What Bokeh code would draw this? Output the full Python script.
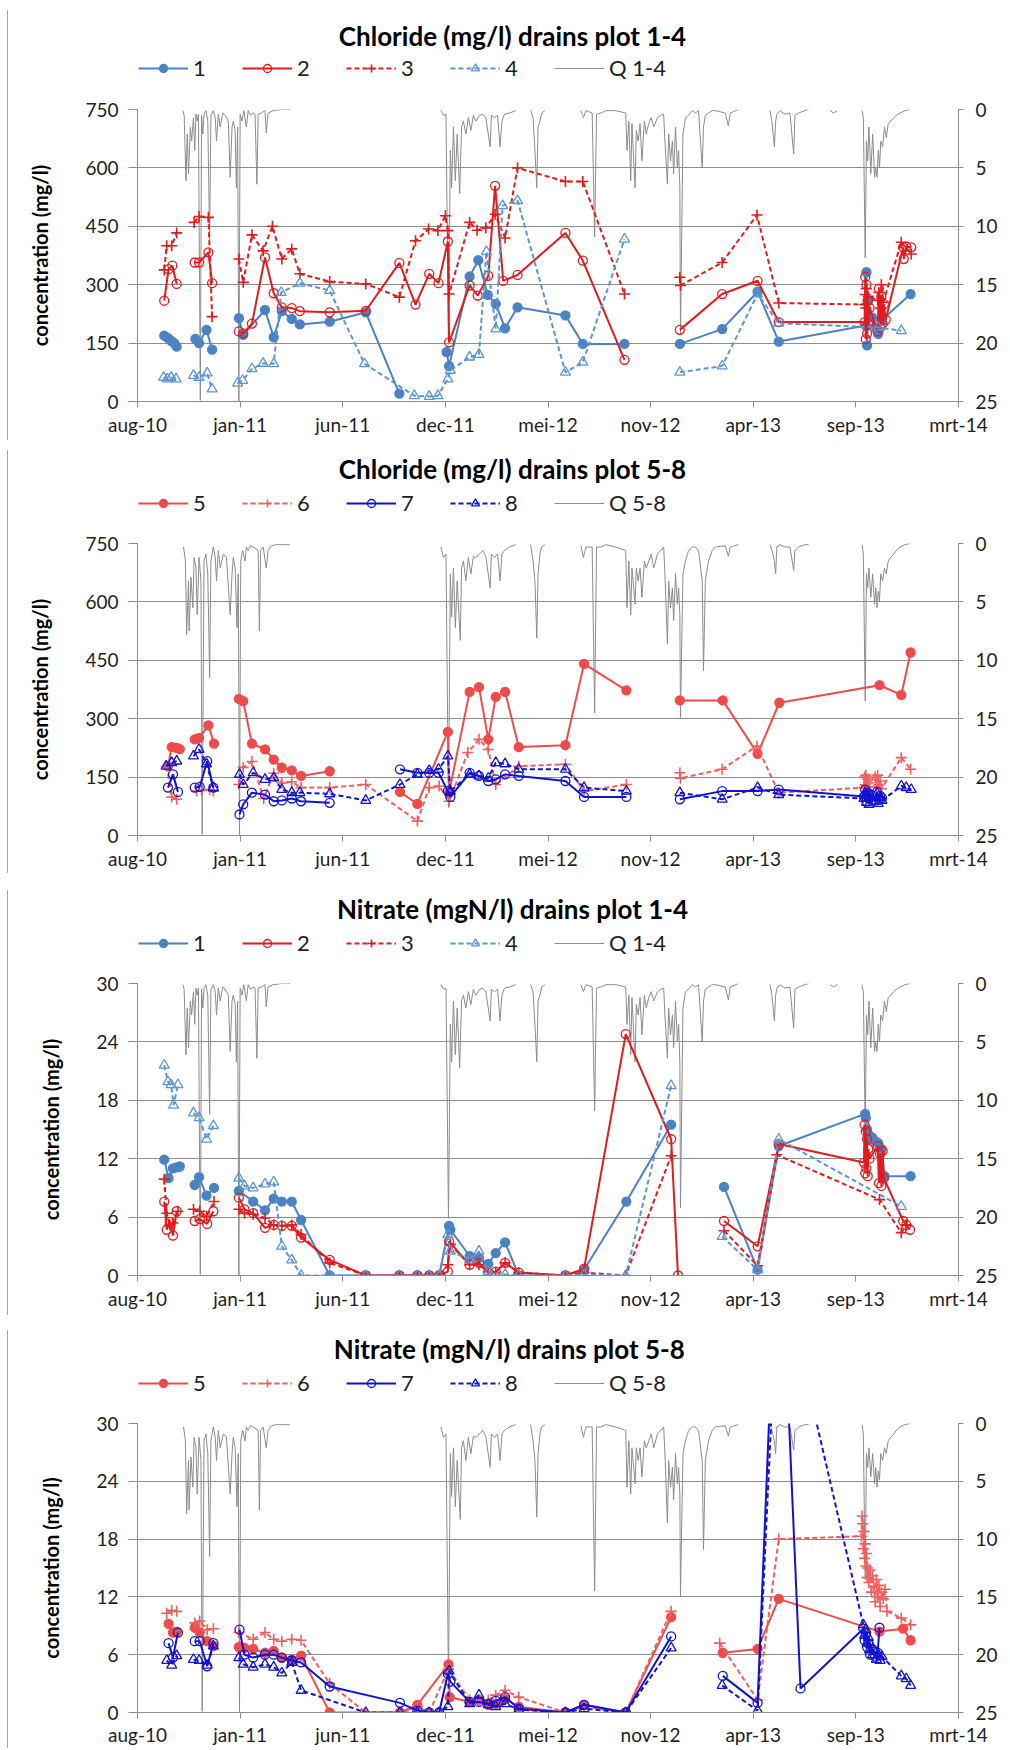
import numpy as np
import pandas as pd
from bokeh.plotting import figure
from bokeh.models import Range1d, LinearAxis, FixedTicker, Legend, LegendItem, Label, Div
from bokeh.layouts import column, row
from bokeh.embed import file_html
from bokeh.resources import INLINE

# ---------------- axis definitions ----------------
x_tick_dates = ["2010-08-01", "2011-01-13", "2011-06-27", "2011-12-09", "2012-05-22",
                "2012-11-03", "2013-04-17", "2013-09-29", "2014-03-13"]
x_tick_labels = ["aug-10", "jan-11", "jun-11", "dec-11", "mei-12", "nov-12", "apr-13", "sep-13", "mrt-14"]
cl_ticks = [0, 150, 300, 450, 600, 750]
no3_ticks = [0, 6, 12, 18, 24, 30]
q_ticks = [0, 5, 10, 15, 20, 25]

# ---------------- Chloride, plots 1-4 ----------------
cl1_date = ["2010-09-13", "2010-09-19", "2010-09-24", "2010-09-29", "2010-10-03", None,
            "2010-11-02", "2010-11-08", "2010-11-20", "2010-11-29", None,
            "2011-01-11", "2011-01-18", "2011-02-22", "2011-03-08", "2011-03-21", "2011-04-06", "2011-04-19",
            "2011-06-06", "2011-08-03", "2011-09-26", None,
            "2011-12-11", "2011-12-15", "2012-01-17", "2012-01-31", "2012-02-15", "2012-02-28", "2012-03-14",
            "2012-04-03", "2012-06-19", "2012-07-17", "2012-09-22", None,
            "2012-12-20", "2013-02-26", "2013-04-24", "2013-05-28", "2013-10-15", "2013-10-16", "2013-10-17",
            "2013-10-19", "2013-10-25", "2013-10-30", "2013-11-04", "2013-11-09", "2013-12-26"]
cl1_val = [169, 163, 156, 150, 141, None, 161, 150, 184, 133, None,
           214, 171, 235, 165, 232, 212, 198, 205, 229, 20, None,
           127, 91, 321, 363, 274, 251, 188, 242, 221, 148, 148, None,
           148, 186, 282, 154, 195, 332, 144, 259, 216, 191, 174, 208, 276]

cl2_date = ["2010-09-13", "2010-09-20", "2010-09-26", "2010-10-03", None,
            "2010-11-01", "2010-11-08", "2010-11-23", "2010-11-29", None,
            "2011-01-11", "2011-01-18", "2011-02-01", "2011-02-22", "2011-03-08", "2011-03-21", "2011-04-06",
            "2011-04-19", "2011-06-06", "2011-08-03", "2011-09-26", "2011-10-22", "2011-11-13", "2011-11-28",
            "2011-12-13", "2011-12-15", "2012-01-17", "2012-01-30", "2012-02-16", "2012-02-27", "2012-03-11",
            "2012-04-03", "2012-06-19", "2012-07-17", "2012-09-22", None,
            "2012-12-20", "2013-02-26", "2013-04-24", "2013-05-28", "2013-10-13", "2013-10-14", "2013-10-15",
            "2013-10-16", "2013-10-17", "2013-10-18", "2013-10-19", "2013-10-21", "2013-11-03", "2013-11-05",
            "2013-11-07", "2013-11-09", "2013-11-11", "2013-11-13", "2013-11-16", "2013-12-14", "2013-12-15",
            "2013-12-19", "2013-12-27"]
cl2_val = [259, 340, 349, 302, None, 357, 357, 383, 304, None,
           180, 175, 200, 370, 278, 242, 240, 232, 229, 233, 356, 249, 328, 304, 411, 152, 298, 272, 323,
           554, 310, 325, 433, 362, 107, None,
           184, 276, 310, 204, 204, 320, 160, 300, 175, 260, 200, 240, 180, 290, 190, 270, 200, 250, 210,
           396, 366, 398, 396]

cl3_date = ["2010-09-13", "2010-09-17", "2010-09-25", "2010-10-03", None,
            "2010-10-31", "2010-11-08", "2010-11-23", "2010-11-29", None,
            "2011-01-11", "2011-01-18", "2011-02-01", "2011-02-19", "2011-03-06", "2011-03-21", "2011-04-06",
            "2011-04-19", "2011-06-06", "2011-08-03", "2011-09-26", "2011-10-22", "2011-11-12", "2011-11-27",
            "2011-12-09", "2011-12-13", "2011-12-15", "2012-01-17", "2012-01-29", "2012-02-12", "2012-02-27",
            "2012-03-14", "2012-04-03", "2012-06-19", "2012-07-17", "2012-09-22", None,
            "2012-12-20", "2012-12-21", "2013-02-26", "2013-04-23", "2013-05-28", "2013-10-13", "2013-10-14",
            "2013-10-15", "2013-10-16", "2013-10-17", "2013-10-19", "2013-11-03", "2013-11-05", "2013-11-07",
            "2013-11-09", "2013-11-12", "2013-12-11", "2013-12-27"]
cl3_val = [338, 400, 400, 433, None, 460, 475, 473, 218, None,
           366, 306, 428, 387, 450, 366, 392, 328, 308, 302, 268, 413, 443, 439, 477, 439, 276, 460, 440,
           446, 481, 420, 600, 565, 565, 276, None,
           319, 298, 357, 479, 253, 249, 275, 240, 290, 250, 270, 260, 280, 240, 300, 255, 409, 379]

cl4_date = ["2010-09-12", "2010-09-18", "2010-09-24", "2010-10-02", None,
            "2010-10-30", "2010-11-08", "2010-11-21", "2010-11-29", None,
            "2011-01-09", "2011-01-17", "2011-02-01", "2011-02-19", "2011-03-08", "2011-03-20", "2011-04-19",
            "2011-06-06", "2011-08-01", "2011-10-20", "2011-11-13", "2011-11-27", "2011-12-13", "2011-12-17",
            "2012-01-17", "2012-02-01", "2012-02-13", "2012-02-28", "2012-03-10", "2012-04-03", "2012-06-19",
            "2012-07-17", "2012-09-22", None,
            "2012-12-20", "2013-02-26", "2013-04-24", "2013-05-28", "2013-11-04", "2013-12-11"]
cl4_val = [62, 58, 62, 58, None, 67, 62, 73, 32, None,
           47, 54, 84, 98, 97, 280, 304, 285, 97, 15, 13, 15, 58, 80, 114, 121, 385, 186, 503, 516, 75,
           101, 417, None, 75, 91, 276, 201, 190, 182]

# ---------------- Chloride, plots 5-8 ----------------
cl5_date = ["2010-09-19", "2010-09-25", "2010-10-03", "2010-10-08", None,
            "2010-11-01", "2010-11-08", "2010-11-23", "2010-12-02", None,
            "2011-01-11", "2011-01-18", "2011-02-01", "2011-02-22", "2011-03-08", "2011-03-21", "2011-04-06",
            "2011-04-21", "2011-06-06", None,
            "2011-09-27", "2011-10-25", "2011-12-13", "2011-12-15", "2012-01-17", "2012-02-01", "2012-02-16",
            "2012-02-28", "2012-03-14", "2012-04-05", "2012-06-19", "2012-07-19", "2012-09-25", None,
            "2012-12-20", "2013-02-27", "2013-04-24", "2013-05-29", "2013-11-06", "2013-12-11", "2013-12-26"]
cl5_val = [178, 227, 225, 222, None, 247, 251, 283, 236, None,
           351, 345, 236, 221, 195, 174, 167, 153, 165, None,
           112, 81, 266, 110, 369, 381, 247, 356, 369, 227, 232, 441, 373, None,
           347, 347, 210, 341, 386, 361, 470]

cl6_date = ["2010-09-17", "2010-09-25", "2010-10-03", None,
            "2010-11-04", "2010-11-12", "2010-11-25", "2010-12-01", None,
            "2011-01-11", "2011-01-18", "2011-02-01", "2011-02-20", "2011-03-08", "2011-03-21", "2011-04-06",
            "2011-04-21", "2011-06-06", "2011-08-03", "2011-10-25", "2011-11-13", "2011-11-29", "2011-12-15",
            "2012-01-14", "2012-02-01", "2012-02-16", "2012-02-28", "2012-04-05", "2012-06-19", "2012-07-19",
            "2012-09-25", None,
            "2012-12-20", "2012-12-21", "2013-02-26", "2013-04-23", "2013-05-28", "2013-10-12", "2013-10-13",
            "2013-10-14", "2013-10-15", "2013-10-16", "2013-10-18", "2013-10-20", "2013-10-30", "2013-11-01",
            "2013-11-03", "2013-11-05", "2013-11-07", "2013-11-09", "2013-12-11", "2013-12-26"]
cl6_val = [178, 99, 93, None, 114, 116, 118, 114, None,
           131, 175, 190, 95, 160, 135, 138, 123, 123, 131, 37, 123, 127, 88, 213, 247, 221, 131, 178,
           183, 114, 131, None,
           161, 147, 170, 230, 110, 123, 150, 130, 155, 125, 145, 135, 150, 125, 155, 130, 140, 120, 200, 170]

cl7_date = ["2010-09-19", "2010-09-27", "2010-10-05", None,
            "2010-11-01", "2010-11-09", "2010-11-21", "2010-12-01", None,
            "2011-01-12", "2011-01-18", "2011-02-01", "2011-02-22", "2011-03-08", "2011-03-21", "2011-04-06",
            "2011-04-21", "2011-06-06", None,
            "2011-09-27", "2011-10-25", "2011-11-13", "2011-11-28", "2011-12-13", "2011-12-17", "2012-01-17",
            "2012-02-01", "2012-02-16", "2012-02-28", "2012-03-14", "2012-04-05", "2012-06-19", "2012-07-19",
            "2012-09-25", None,
            "2012-12-20", "2013-02-26", "2013-04-24", "2013-05-28", "2013-10-12", "2013-10-14", "2013-10-16",
            "2013-10-18", "2013-10-20", "2013-10-23", "2013-10-31", "2013-11-02", "2013-11-04", "2013-11-07",
            "2013-11-10"]
cl7_val = [123, 157, 112, None, 123, 125, 191, 123, None,
           54, 80, 110, 105, 88, 90, 95, 88, 84, None,
           170, 161, 161, 161, 114, 99, 161, 153, 140, 144, 157, 153, 140, 99, 99, None,
           93, 114, 114, 118, 100, 118, 88, 110, 95, 105, 90, 112, 93, 102, 96]

cl8_date = ["2010-09-16", "2010-09-25", "2010-10-03", None,
            "2010-10-30", "2010-11-08", "2010-11-20", "2010-12-01", None,
            "2011-01-12", "2011-01-18", "2011-02-03", "2011-02-22", "2011-03-08", "2011-03-21", "2011-04-06",
            "2011-04-19", "2011-06-06", "2011-08-03", "2011-09-27", "2011-10-25", "2011-11-13", "2011-11-28",
            "2011-12-13", "2011-12-17", "2012-01-17", "2012-02-01", "2012-02-16", "2012-02-28", "2012-03-14",
            "2012-04-05", "2012-06-19", "2012-07-19", "2012-09-25", None,
            "2012-12-20", "2013-02-26", "2013-04-24", "2013-05-28", "2013-10-12", "2013-10-14", "2013-10-16",
            "2013-10-18", "2013-10-20", "2013-10-23", "2013-10-31", "2013-11-02", "2013-11-04", "2013-11-07",
            "2013-11-10", "2013-12-11", "2013-12-19", "2013-12-27"]
cl8_val = [178, 187, 191, None, 204, 221, 184, 123, None,
           157, 131, 161, 144, 148, 118, 110, 110, 107, 90, 131, 157, 167, 170, 204, 114, 157, 153, 147,
           187, 184, 170, 170, 123, 114, None,
           110, 93, 123, 105, 95, 110, 85, 105, 80, 100, 88, 108, 82, 98, 90, 127, 123, 118]

# ---------------- Nitrate, plots 1-4 ----------------
no1_date = ["2010-09-13", "2010-09-20", "2010-09-27", "2010-10-03", "2010-10-08", None,
            "2010-11-01", "2010-11-08", "2010-11-20", "2010-12-02", None,
            "2011-01-11", "2011-02-03", "2011-02-22", "2011-03-08", "2011-03-21", "2011-04-06", "2011-04-21",
            "2011-06-06", "2011-08-03", "2011-09-26", "2011-10-25", "2011-11-13", "2011-11-29", "2011-12-15",
            "2011-12-17", "2012-01-17", "2012-02-01", "2012-02-16", "2012-02-28", "2012-03-14", "2012-04-05",
            "2012-06-19", "2012-07-19", "2012-09-25", "2012-12-06", None,
            "2013-03-01", "2013-04-24", "2013-05-28", "2013-10-14", "2013-10-15", "2013-10-17", "2013-10-19",
            "2013-10-22", "2013-10-25", "2013-10-30", "2013-11-04", "2013-11-09", "2013-11-14", "2013-12-26"]
no1_val = [11.9, 10.0, 11.0, 11.1, 11.2, None, 9.3, 10.1, 8.2, 9.0, None,
           8.7, 7.6, 6.7, 7.9, 7.6, 7.6, 5.7, 0, 0, 0, 0, 0, 0, 5.1, 4.7, 2.0, 1.8, 1.2, 2.3, 3.4, 0, 0,
           0.6, 7.6, 15.5, None,
           9.1, 0.6, 13.3, 16.6, 16.2, 15.0, 14.5, 14.0, 14.2, 13.8, 13.6, 13.0, 10.2, 10.2]

no2_date = ["2010-09-13", "2010-09-17", "2010-09-22", "2010-09-27", "2010-10-03", None,
            "2010-11-01", "2010-11-09", "2010-11-21", "2010-12-01", None,
            "2011-01-11", "2011-01-20", "2011-02-03", "2011-02-22", "2011-03-08", "2011-03-21", "2011-04-06",
            "2011-04-21", "2011-06-06", "2011-08-03", "2011-09-26", "2011-10-25", "2011-11-13", "2011-11-29",
            "2011-12-13", "2011-12-15", "2012-01-17", "2012-02-01", "2012-02-16", "2012-02-28", "2012-03-14",
            "2012-04-05", "2012-06-19", "2012-07-19", "2012-09-24", "2012-12-06", "2012-12-17", None,
            "2013-03-01", "2013-04-24", "2013-05-28", "2013-10-12", "2013-10-13", "2013-10-14", "2013-10-15",
            "2013-10-16", "2013-10-17", "2013-10-18", "2013-10-19", "2013-10-21", "2013-11-03", "2013-11-05",
            "2013-11-07", "2013-11-09", "2013-11-11", "2013-11-13", "2013-12-14", "2013-12-19", "2013-12-25"]
no2_val = [7.6, 4.7, 5.5, 4.1, 6.6, None, 5.6, 5.8, 5.3, 6.6, None,
           8.0, 6.8, 6.4, 4.9, 5.2, 5.1, 5.1, 3.9, 1.6, 0, 0, 0, 0, 0, 0.4, 3.5, 1.1, 1.3, 0.3, 0.4, 1.3,
           0.3, 0, 0.7, 24.8, 14.0, 0, None,
           5.6, 3.0, 13.5, 11.6, 15.5, 10.5, 14.8, 11.0, 14.0, 10.2, 13.0, 12.0, 13.3, 9.5, 12.5, 9.2,
           12.8, 10.0, 5.6, 5.2, 4.7]

no3_date = ["2010-09-13", "2010-09-17", "2010-09-22", "2010-09-27", "2010-10-05", None,
            "2010-10-30", "2010-11-09", "2010-11-20", "2010-12-02", None,
            "2011-01-11", "2011-01-20", "2011-02-03", "2011-02-22", "2011-03-08", "2011-03-21", "2011-04-06",
            "2011-04-21", "2011-06-06", "2011-08-03", "2011-09-26", "2011-10-25", "2011-11-13", "2011-11-29",
            "2011-12-13", "2011-12-17", "2012-01-17", "2012-02-01", "2012-02-16", "2012-02-28", "2012-03-14",
            "2012-04-05", "2012-06-19", "2012-07-19", "2012-09-24", "2012-12-06", None,
            "2013-03-01", "2013-04-24", "2013-05-25", "2013-11-06", "2013-12-11", "2013-12-19"]
no3_val = [9.9, 6.4, 5.2, 5.4, 6.6, None, 6.8, 6.6, 6.1, 7.6, None,
           6.8, 6.4, 6.3, 5.9, 5.2, 5.1, 5.2, 4.2, 1.3, 0, 0, 0, 0, 0, 1.1, 3.2, 1.1, 1.1, 0.4, 0.3, 1.3,
           0.3, 0, 0.3, 0, 12.3, None,
           4.6, 1.0, 12.4, 7.8, 4.4, 5.2]

no4_date = ["2010-09-13", "2010-09-19", "2010-09-24", "2010-09-28", "2010-10-05", None,
            "2010-10-30", "2010-11-08", "2010-11-20", "2010-12-01", None,
            "2011-01-11", "2011-01-20", "2011-02-03", "2011-02-22", "2011-03-08", "2011-03-21", "2011-04-06",
            "2011-04-21", "2011-06-06", "2011-08-03", "2011-09-26", "2011-10-25", "2011-11-13", "2011-11-29",
            "2011-12-13", "2011-12-17", "2012-01-17", "2012-02-01", "2012-02-16", "2012-03-14", "2012-04-05",
            "2012-06-19", "2012-07-19", "2012-09-24", "2012-12-06", None,
            "2013-02-26", "2013-04-24", "2013-05-28", "2013-12-11"]
no4_val = [21.6, 19.9, 19.6, 17.5, 19.6, None, 16.7, 16.2, 14.0, 15.4, None,
           10.0, 9.2, 9.0, 9.4, 9.6, 3.0, 1.6, 0, 0, 0, 0, 0, 0, 0, 4.2, 2.5, 1.6, 2.5, 0.4, 0.1, 0, 0,
           0.1, 0, 19.5, None,
           4.0, 0.6, 14.0, 7.1]

# ---------------- Nitrate, plots 5-8 ----------------
no5_date = ["2010-09-20", "2010-09-27", "2010-10-03", None,
            "2010-11-01", "2010-11-09", "2010-11-21", "2010-12-01", None,
            "2011-01-11", "2011-01-20", "2011-02-03", "2011-02-22", "2011-03-08", "2011-03-21", "2011-04-06",
            "2011-04-21", "2011-06-06", "2011-09-27", "2011-10-25", "2011-12-14", "2011-12-16", "2012-01-17",
            "2012-02-01", "2012-02-16", "2012-02-28", "2012-03-14", "2012-04-05", "2012-06-19", "2012-07-19",
            "2012-09-24", "2012-12-06", None,
            "2013-02-27", "2013-04-24", "2013-05-28", "2013-11-06", "2013-12-14", "2013-12-26"]
no5_val = [9.2, 8.3, 8.4, None, 8.8, 8.3, 7.4, 6.9, None,
           6.8, 6.7, 6.6, 6.2, 6.4, 5.7, 5.5, 5.9, 0, 0, 0.8, 5.0, 1.6, 1.1, 1.3, 0.8, 0.9, 1.4, 0.6, 0,
           0.8, 0, 9.9, None,
           6.2, 6.6, 11.8, 8.4, 8.7, 7.5]

no6_date = ["2010-09-17", "2010-09-25", "2010-10-03", None,
            "2010-11-01", "2010-11-09", "2010-11-21", "2010-12-01", None,
            "2011-01-11", "2011-02-03", "2011-02-22", "2011-03-08", "2011-03-21", "2011-04-06", "2011-04-21",
            "2011-06-06", "2011-08-03", "2011-09-27", "2011-10-25", "2011-11-13", "2011-12-14", "2012-01-17",
            "2012-02-01", "2012-02-16", "2012-02-28", "2012-03-14", "2012-04-05", "2012-06-19", "2012-07-19",
            "2012-09-24", "2012-12-06", None,
            "2013-02-22", "2013-04-24", "2013-05-28", "2013-10-08", "2013-10-09", "2013-10-10", "2013-10-11",
            "2013-10-12", "2013-10-13", "2013-10-14", "2013-10-15", "2013-10-16", "2013-10-17", "2013-10-18",
            "2013-10-20", "2013-10-22", "2013-10-24", "2013-10-26", "2013-10-28", "2013-10-30", "2013-11-01",
            "2013-11-03", "2013-11-05", "2013-11-07", "2013-11-09", "2013-11-12", "2013-11-15", "2013-11-18",
            "2013-12-11", "2013-12-26"]
no6_val = [10.3, 10.6, 10.5, None, 9.3, 9.5, 8.6, 8.7, None,
           8.3, 7.6, 8.3, 7.6, 7.4, 7.6, 7.5, 3.0, 0, 0, 0.6, 0, 4.5, 1.3, 1.3, 1.3, 1.8, 2.3, 1.6, 0, 0.6,
           0, 10.5, None,
           7.2, 1.3, 18.0, 18.3, 20.4, 19.6, 17.0, 18.8, 16.0, 17.5, 15.2, 16.5, 14.0, 15.0, 13.5, 14.8,
           12.5, 14.2, 13.0, 11.5, 13.8, 12.0, 13.2, 11.0, 12.5, 11.8, 12.8, 10.5, 9.8, 9.1]

no7_date = ["2010-09-20", "2010-09-27", "2010-10-05", None,
            "2010-11-01", "2010-11-09", "2010-11-21", "2010-12-01", None,
            "2011-01-12", "2011-01-20", "2011-02-03", "2011-02-22", "2011-03-08", "2011-03-21", "2011-04-06",
            "2011-04-21", "2011-06-06", "2011-09-27", "2011-10-25", "2011-11-13", "2011-11-29", "2011-12-13",
            "2011-12-17", "2012-01-17", "2012-02-01", "2012-02-16", "2012-02-28", "2012-03-14", "2012-04-05",
            "2012-06-19", "2012-07-19", "2012-09-24", "2012-12-06", None,
            "2013-02-27", "2013-04-24", "2013-05-28", "2013-07-02", "2013-10-11", "2013-10-13", "2013-10-15",
            "2013-10-17", "2013-10-19", "2013-10-22", "2013-10-26", "2013-10-30", "2013-11-03", "2013-11-06"]
no7_val = [7.2, 5.7, 8.3, None, 7.4, 7.4, 4.8, 7.2, None,
           8.6, 6.0, 5.7, 6.0, 6.0, 5.7, 5.4, 5.2, 2.7, 1.0, 0.2, 0, 0, 4.0, 3.2, 1.1, 1.1, 0.9, 1.2, 1.6,
           0.4, 0, 0.8, 0, 7.9, None,
           3.8, 1.0, 55, 2.5, 8.7, 7.5, 8.2, 6.8, 7.2, 6.0, 6.5, 5.8, 6.2, 8.8]

no8_date = ["2010-09-17", "2010-09-25", "2010-10-03", None,
            "2010-10-30", "2010-11-08", "2010-11-21", "2010-12-01", None,
            "2011-01-11", "2011-01-18", "2011-02-03", "2011-02-22", "2011-03-08", "2011-03-21", "2011-04-06",
            "2011-04-21", "2011-08-03", "2011-09-27", "2011-10-25", "2011-11-13", "2011-11-29", "2011-12-13",
            "2011-12-15", "2012-01-17", "2012-02-01", "2012-02-16", "2012-02-28", "2012-03-14", "2012-04-05",
            "2012-06-19", "2012-07-19", "2012-09-24", "2012-12-06", None,
            "2013-02-26", "2013-04-24", "2013-05-28", "2013-10-11", "2013-10-13", "2013-10-15", "2013-10-17",
            "2013-10-19", "2013-10-21", "2013-10-23", "2013-10-26", "2013-10-29", "2013-11-01", "2013-11-04",
            "2013-11-07", "2013-11-10", "2013-12-11", "2013-12-19", "2013-12-26"]
no8_val = [5.4, 4.9, 5.9, None, 5.5, 5.4, 4.9, 6.9, None,
           5.7, 5.0, 4.7, 5.0, 4.7, 4.1, 5.2, 2.3, 0, 0, 0, 0, 0, 0.6, 4.3, 0.9, 1.8, 0.8, 0.6, 0.9, 0.3, 0,
           0.4, 0, 6.7, None,
           2.8, 0.2, 47, 9.1, 8.0, 8.6, 7.2, 7.8, 6.5, 7.0, 6.0, 6.4, 5.5, 6.0, 5.4, 5.8, 3.8, 3.5, 2.8]

# ---------------- Drain discharge Q (right axis, reversed) ----------------
q14_date = ["2010-10-13", "2010-10-15", "2010-10-18", "2010-10-20", "2010-10-22", "2010-10-25", "2010-10-27",
            "2010-10-30", "2010-11-01", "2010-11-03", "2010-11-05", "2010-11-07", "2010-11-10", "2010-11-12",
            "2010-11-14", "2010-11-16", "2010-11-19", "2010-11-22", "2010-11-25", "2010-11-27", "2010-12-01",
            "2010-12-04", "2010-12-06", "2010-12-09", "2010-12-12", "2010-12-16", "2010-12-20", "2010-12-25",
            "2010-12-28", "2010-12-31", "2011-01-02", "2011-01-05", "2011-01-07", "2011-01-09", "2011-01-11",
            "2011-01-13", "2011-01-16", "2011-01-19", "2011-01-23", "2011-01-26", "2011-01-30", "2011-02-03",
            "2011-02-06", "2011-02-09", "2011-02-11", "2011-02-16", "2011-02-22", "2011-02-24", "2011-02-27",
            "2011-03-07", "2011-03-21", "2011-04-03", None,
            "2011-12-02", "2011-12-06", "2011-12-10", "2011-12-14", "2011-12-17", "2011-12-19", "2011-12-22",
            "2011-12-25", "2011-12-28", "2012-01-01", "2012-01-04", "2012-01-07", "2012-01-11", "2012-01-15",
            "2012-01-19", "2012-01-23", "2012-01-27", "2012-02-02", "2012-02-07", "2012-02-12", "2012-02-19",
            "2012-02-21", "2012-02-26", "2012-03-02", "2012-03-06", "2012-03-09", "2012-03-13", "2012-03-21",
            "2012-03-31", None,
            "2012-04-24", "2012-04-28", "2012-05-01", "2012-05-04", "2012-05-06", "2012-05-09", "2012-05-12",
            "2012-05-17", None,
            "2012-07-14", "2012-07-18", "2012-07-22", "2012-08-01", "2012-08-05", "2012-08-08", "2012-08-15",
            "2012-08-23", "2012-09-08", "2012-09-24", "2012-09-26", "2012-09-29", "2012-10-02", "2012-10-04",
            "2012-10-09", "2012-10-11", "2012-10-14", "2012-10-17", "2012-10-20", "2012-10-24", "2012-10-27",
            "2012-10-31", "2012-11-04", "2012-11-08", "2012-11-14", "2012-11-19", "2012-11-24", "2012-11-26",
            "2012-11-30", "2012-12-02", "2012-12-05", "2012-12-08", "2012-12-10", "2012-12-13", "2012-12-16",
            "2012-12-18", "2012-12-20", "2012-12-21", "2012-12-25", "2012-12-29", "2013-01-03", "2013-01-09",
            "2013-01-14", "2013-01-19", "2013-01-25", "2013-01-27", "2013-01-30", "2013-02-04", "2013-02-10",
            "2013-02-15", "2013-03-03", "2013-03-08", "2013-03-11", "2013-03-24", None,
            "2013-05-14", "2013-05-17", "2013-05-21", "2013-05-23", "2013-05-25", "2013-05-30", "2013-06-07",
            "2013-06-15", "2013-06-21", "2013-06-23", "2013-06-29", "2013-07-09", "2013-07-15", None,
            "2013-08-19", "2013-08-24", "2013-08-30", None,
            "2013-10-09", "2013-10-11", "2013-10-14", "2013-10-16", "2013-10-18", "2013-10-20", "2013-10-23",
            "2013-10-26", "2013-10-29", "2013-10-31", "2013-11-02", "2013-11-04", "2013-11-06", "2013-11-08",
            "2013-11-11", "2013-11-14", "2013-11-17", "2013-11-20", "2013-11-24", "2013-11-29", "2013-12-03",
            "2013-12-09", "2013-12-17", "2013-12-25"]
q14_val = [0.1, 0.5, 6.1, 2.1, 5.5, 1.5, 2.7, 0.7, 3.5, 0.4, 1.0, 0.4, 24.9, 0.5, 2.1, 0.4, 0.1, 1.0, 11.2,
           0.5, 0.1, 0.7, 2.7, 0.4, 1.5, 0.3, 0.5, 1.0, 5.8, 1.5, 1.0, 1.8, 6.7, 1.5, 25, 0.4, 1.0, 0.1,
           1.5, 0.1, 0.5, 0.3, 0.4, 6.4, 0.4, 0.3, 0.1, 2.0, 0.3, 0.1, 0.0, 0.0, None,
           0.1, 0.5, 0.4, 20.1, 3.5, 6.7, 1.5, 6.1, 2.1, 7.2, 1.5, 1.0, 2.1, 0.7, 1.8, 0.5, 1.0, 0.5, 0.4,
           0.7, 3.2, 0.5, 0.7, 0.5, 3.2, 1.0, 0.4, 0.3, 0.1, None,
           0.1, 0.7, 3.5, 6.7, 1.5, 1.0, 0.3, 0.1, None,
           0.1, 0.7, 0.1, 0.3, 10.9, 0.4, 0.3, 0.1, 0.1, 0.3, 3.5, 1.0, 6.1, 1.2, 6.7, 1.8, 2.7, 1.2, 4.4,
           1.0, 2.1, 1.2, 0.7, 1.5, 0.7, 0.5, 0.4, 2.7, 6.4, 2.1, 4.4, 2.7, 5.5, 1.5, 5.0, 3.5, 6.7, 19.2,
           2.1, 0.7, 0.5, 0.1, 0.3, 0.1, 5.0, 1.5, 0.5, 0.3, 0.1, 0.1, 0.3, 1.4, 0.3, 0.0, None,
           0.1, 1.0, 3.2, 1.0, 0.4, 0.1, 0.4, 0.3, 3.8, 0.5, 0.3, 0.1, 0.0, None,
           0.1, 0.3, 0.1, None,
           0.1, 0.7, 12.7, 2.7, 4.4, 1.5, 5.5, 2.1, 5.8, 5.0, 5.8, 3.5, 5.0, 2.7, 3.2, 1.5, 2.4, 1.2, 1.0,
           0.7, 0.5, 0.3, 0.1, 0.0]

q58_date = ["2010-10-14", "2010-10-17", "2010-10-19", "2010-10-22", "2010-10-23", "2010-10-26", "2010-10-29",
            "2010-10-31", "2010-11-03", "2010-11-05", "2010-11-08", "2010-11-11", "2010-11-13", "2010-11-16",
            "2010-11-19", "2010-11-22", "2010-11-25", "2010-11-27", "2010-12-01", "2010-12-04", "2010-12-06",
            "2010-12-09", "2010-12-12", "2010-12-17", "2010-12-22", "2010-12-28", "2010-12-31", "2011-01-02",
            "2011-01-05", "2011-01-08", "2011-01-10", "2011-01-12", "2011-01-14", "2011-01-17", "2011-01-21",
            "2011-01-23", "2011-01-26", "2011-01-30", "2011-02-03", "2011-02-11", "2011-02-13", "2011-02-15",
            "2011-02-19", "2011-02-24", "2011-02-27", "2011-03-04", "2011-03-12", "2011-04-03", None,
            "2011-12-02", "2011-12-06", "2011-12-10", "2011-12-14", "2011-12-17", "2011-12-19", "2011-12-22",
            "2011-12-25", "2011-12-28", "2012-01-02", "2012-01-04", "2012-01-07", "2012-01-11", "2012-01-15",
            "2012-01-19", "2012-01-23", "2012-01-27", "2012-02-02", "2012-02-07", "2012-02-12", "2012-02-19",
            "2012-02-21", "2012-02-26", "2012-03-02", "2012-03-06", "2012-03-09", "2012-03-13", "2012-03-21",
            "2012-03-31", None,
            "2012-04-24", "2012-04-28", "2012-05-01", "2012-05-04", "2012-05-06", "2012-05-09", "2012-05-12",
            "2012-05-17", None,
            "2012-07-14", "2012-07-18", "2012-07-22", "2012-08-01", "2012-08-05", "2012-08-08", "2012-08-15",
            "2012-08-23", "2012-09-08", "2012-09-24", "2012-09-26", "2012-09-29", "2012-10-02", "2012-10-04",
            "2012-10-09", "2012-10-11", "2012-10-14", "2012-10-17", "2012-10-20", "2012-10-24", "2012-10-27",
            "2012-10-31", "2012-11-04", "2012-11-08", "2012-11-14", "2012-11-19", "2012-11-24", "2012-11-26",
            "2012-11-30", "2012-12-02", "2012-12-05", "2012-12-08", "2012-12-10", "2012-12-13", "2012-12-16",
            "2012-12-18", "2012-12-20", "2012-12-21", "2012-12-25", "2012-12-29", "2013-01-03", "2013-01-09",
            "2013-01-14", "2013-01-19", "2013-01-25", "2013-01-27", "2013-01-30", "2013-02-04", "2013-02-10",
            "2013-02-15", "2013-03-03", "2013-03-08", "2013-03-11", "2013-03-24", None,
            "2013-05-14", "2013-05-17", "2013-05-21", "2013-05-23", "2013-05-25", "2013-05-30", "2013-06-07",
            "2013-06-15", "2013-06-21", "2013-06-23", "2013-06-29", "2013-07-09", "2013-07-15", None,
            "2013-10-09", "2013-10-11", "2013-10-14", "2013-10-16", "2013-10-18", "2013-10-20", "2013-10-23",
            "2013-10-26", "2013-10-29", "2013-10-31", "2013-11-02", "2013-11-04", "2013-11-06", "2013-11-08",
            "2013-11-11", "2013-11-14", "2013-11-17", "2013-11-20", "2013-11-24", "2013-11-29", "2013-12-03",
            "2013-12-09", "2013-12-17", "2013-12-25"]
q58_val = [0.3, 1.5, 7.8, 3.2, 7.5, 2.9, 5.5, 1.2, 2.1, 6.1, 1.2, 3.2, 24.9, 1.5, 0.9, 2.6, 11.5, 1.5, 0.3,
           1.2, 3.2, 0.6, 2.1, 0.9, 1.2, 6.1, 2.6, 1.2, 2.1, 7.2, 2.6, 25, 1.5, 0.6, 1.5, 0.3, 0.6, 0.2, 0.3,
           0.6, 7.5, 0.6, 0.3, 2.1, 0.6, 0.2, 0.1, 0.1, None,
           0.3, 1.2, 0.9, 22.6, 2.6, 6.3, 2.1, 7.2, 3.2, 8.3, 2.1, 1.5, 3.2, 1.2, 2.6, 1.1, 1.2, 0.9, 0.6,
           1.1, 3.8, 0.9, 1.2, 0.9, 3.2, 0.9, 0.6, 0.3, 0.1, None,
           0.1, 1.5, 3.2, 8.1, 2.6, 0.9, 0.3, 0.1, None,
           0.2, 1.2, 0.3, 0.3, 14.5, 0.3, 0.3, 0.1, 0.3, 0.6, 5.5, 1.5, 6.1, 2.1, 5.2, 2.1, 3.2, 2.1, 4.6,
           1.5, 2.1, 1.5, 0.9, 2.1, 0.9, 0.6, 0.3, 2.6, 8.6, 3.2, 5.5, 3.8, 6.6, 2.6, 5.2, 3.8, 6.1, 14.9,
           2.6, 1.5, 0.6, 0.3, 0.3, 0.6, 3.2, 10.9, 3.2, 1.5, 0.6, 0.3, 0.2, 1.1, 0.3, 0.1, None,
           0.1, 0.6, 1.5, 2.6, 0.3, 0.1, 0.3, 0.3, 2.3, 0.6, 0.3, 0.1, 0.1, None,
           0.1, 0.9, 13.5, 2.6, 3.8, 2.1, 4.6, 2.6, 5.2, 3.8, 5.5, 4.1, 4.9, 2.6, 3.2, 2.1, 2.6, 1.5, 1.2,
           0.9, 0.6, 0.3, 0.1, 0.0]

# ---------------- styling ----------------
FONT = "Lato"
GRID = "#8e8e8e"
TXT = "#1e1e1e"
QCOL = "#8c8c8c"
BASE = pd.Timestamp("2010-08-01")
W = 992          # figures start 8px from the page edge (after the thin chart-area border strip)
LEFT = 129       # frame left edge lands at x = 137 on the page


def days(dates):
    return np.array([np.nan if d is None else float((pd.Timestamp(d) - BASE).days) for d in dates])


def vals(v):
    return np.array([np.nan if x is None else float(x) for x in v])


def style_kwargs(color, marker, filled):
    if marker == "cross":
        return dict(marker="cross", size=11, line_color=color, line_width=1.6)
    size = 9 if marker == "circle" else 10
    return dict(marker=marker, size=size, line_color=color, line_width=1.3,
                fill_color=color if filled else None)


def make_header(title, series, q_label, height, title_from_bottom, legend_from_bottom):
    # the frame of this strip is aligned with the chart frame below it (page x 137..960)
    h = figure(width=W, height=height, output_backend="svg", toolbar_location=None,
               x_axis_type=None, y_axis_type=None, x_range=Range1d(0, 1), y_range=Range1d(0, 1),
               min_border_left=0, min_border_right=0, min_border_top=0, min_border_bottom=0,
               background_fill_color="white", border_fill_color="white")
    h.outline_line_color = None
    blank = [np.nan]  # legend-only renderers: one missing point, nothing is drawn in the plot area
    items = []
    for lab, d, v, color, dash, marker, filled in series:
        lr = h.line(blank, blank, line_color=color, line_width=2, line_dash=dash)
        mr = h.scatter(blank, blank, **style_kwargs(color, marker, filled))
        items.append(LegendItem(label=lab, renderers=[lr, mr]))
    qr = h.line(blank, blank, line_color=QCOL, line_width=1)
    items.append(LegendItem(label=q_label, renderers=[qr]))
    leg = Legend(items=items, orientation="horizontal", location=(1, legend_from_bottom - 13),
                 glyph_width=50, glyph_height=20, label_standoff=5, spacing=29,
                 padding=0, margin=0, border_line_color=None, background_fill_alpha=0,
                 label_text_font=FONT, label_text_font_size="22px", label_text_color=TXT)
    h.add_layout(leg)
    lbl = Label(x=375, y=title_from_bottom, x_units="screen", y_units="screen", text=title,
                text_align="center", text_baseline="middle")
    lbl.text_font = FONT
    lbl.text_font_size = "26px"
    lbl.text_font_style = "bold"
    lbl.text_color = "#000000"
    h.add_layout(lbl)
    return h


def make_chart(ymax, yticks, series, q_date, q_val, height, bottom, xstand):
    p = figure(width=W, height=height, output_backend="svg", toolbar_location=None,
               x_range=Range1d(0, 1320), y_range=Range1d(0, ymax),
               min_border_left=LEFT, min_border_right=40, min_border_top=12, min_border_bottom=bottom,
               background_fill_color="white", border_fill_color="white")
    p.outline_line_color = None
    p.extra_y_ranges = {"q": Range1d(25, 0)}

    xt = days(x_tick_dates)
    p.xaxis.ticker = FixedTicker(ticks=list(xt))
    p.xaxis.major_label_overrides = {int(d): lab for d, lab in zip(xt, x_tick_labels)}
    p.xaxis.major_tick_out = 6
    p.xaxis.major_tick_in = 0
    p.xaxis.minor_tick_line_color = None
    p.xaxis.axis_line_color = GRID
    p.xaxis.major_tick_line_color = GRID
    p.xaxis.major_label_standoff = xstand
    p.xaxis.major_label_text_font = FONT
    p.xaxis.major_label_text_font_size = "19px"
    p.xaxis.major_label_text_color = TXT
    p.xgrid.visible = False

    p.yaxis.ticker = FixedTicker(ticks=yticks)
    p.yaxis.major_tick_out = 9
    p.yaxis.major_tick_in = 0
    p.yaxis.minor_tick_line_color = None
    p.yaxis.axis_line_color = GRID
    p.yaxis.major_tick_line_color = GRID
    p.yaxis.major_label_standoff = 10
    p.yaxis.major_label_text_font = FONT
    p.yaxis.major_label_text_font_size = "19px"
    p.yaxis.major_label_text_color = TXT
    p.yaxis.axis_label = "concentration (mg/l)"
    p.yaxis.axis_label_text_font = FONT
    p.yaxis.axis_label_text_font_size = "20px"
    p.yaxis.axis_label_text_font_style = "bold"
    p.yaxis.axis_label_text_color = "#000000"
    p.yaxis.axis_label_standoff = 30
    p.ygrid.ticker = FixedTicker(ticks=yticks)
    p.ygrid.grid_line_color = GRID
    p.ygrid.grid_line_width = 1

    rax = LinearAxis(y_range_name="q", ticker=FixedTicker(ticks=q_ticks))
    rax.major_tick_out = 5
    rax.major_tick_in = 0
    rax.minor_tick_line_color = None
    rax.axis_line_color = GRID
    rax.major_tick_line_color = GRID
    rax.major_label_standoff = 12
    rax.major_label_text_font = FONT
    rax.major_label_text_font_size = "19px"
    rax.major_label_text_color = TXT
    p.add_layout(rax, "right")

    p.line(days(q_date), vals(q_val), y_range_name="q", line_color=QCOL, line_width=1)
    for lab, d, v, color, dash, marker, filled in series:
        x = days(d)
        y = vals(v)
        p.line(x, y, line_color=color, line_width=2, line_dash=dash)
        p.scatter(x, y, **style_kwargs(color, marker, filled))
    return p


C1 = "#4b82c3"
C2 = "#e41a1c"
C4 = "#5c95d2"
C5 = "#f04a4a"
C6 = "#f25e5e"
C7 = "#1212d2"

s14_cl = [("1", cl1_date, cl1_val, C1, "solid", "circle", True),
          ("2", cl2_date, cl2_val, C2, "solid", "circle", False),
          ("3", cl3_date, cl3_val, C2, "5 3", "cross", False),
          ("4", cl4_date, cl4_val, C4, "5 3", "triangle", False)]
s58_cl = [("5", cl5_date, cl5_val, C5, "solid", "circle", True),
          ("6", cl6_date, cl6_val, C6, "5 3", "cross", False),
          ("7", cl7_date, cl7_val, C7, "solid", "circle", False),
          ("8", cl8_date, cl8_val, C7, "5 3", "triangle", False)]
s14_no = [("1", no1_date, no1_val, C1, "solid", "circle", True),
          ("2", no2_date, no2_val, C2, "solid", "circle", False),
          ("3", no3_date, no3_val, C2, "5 3", "cross", False),
          ("4", no4_date, no4_val, C4, "5 3", "triangle", False)]
s58_no = [("5", no5_date, no5_val, C5, "solid", "circle", True),
          ("6", no6_date, no6_val, C6, "5 3", "cross", False),
          ("7", no7_date, no7_val, C7, "solid", "circle", False),
          ("8", no8_date, no8_val, C7, "5 3", "triangle", False)]

h1 = make_header("Chloride (mg/l) drains plot 1-4", s14_cl, "Q 1-4", 97, 62, 29)
c1 = make_chart(750, cl_ticks, s14_cl, q14_date, q14_val, 346, 42, 5)
h2 = make_header("Chloride (mg/l) drains plot 5-8", s58_cl, "Q 5-8", 88, 63, 28)
c2 = make_chart(750, cl_ticks, s58_cl, q58_date, q58_val, 352, 48, 5)
h3 = make_header("Nitrate (mgN/l) drains plot 1-4", s14_no, "Q 1-4", 88, 63, 28)
c3 = make_chart(30, no3_ticks, s14_no, q14_date, q14_val, 352, 48, 5)
h4 = make_header("Nitrate  (mgN/l) drains plot 5-8", s58_no, "Q 5-8", 88, 63, 28)
c4 = make_chart(30, no3_ticks, s58_no, q58_date, q58_val, 337, 33, 4)

# thin grey chart-area border strips along the left edge of each chart block
edge_tops = [10, 10, 17, 15]
edge_heights = [430, 423, 425, 418]
edges = [Div(text="", width=1, height=hh, margin=(tt, 0, 0, 7),
             styles={"background-color": "#a8a8a8"}) for tt, hh in zip(edge_tops, edge_heights)]
edge_col = column(*edges, spacing=0)

charts = column(h1, c1, h2, c2, h3, c3, h4, c4, spacing=0)
layout = row(edge_col, charts, spacing=0)
open("out.html", "w").write(file_html(layout, INLINE))
